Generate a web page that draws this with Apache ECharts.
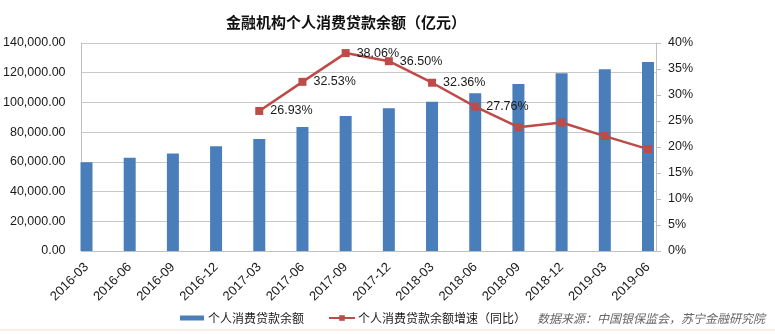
<!DOCTYPE html>
<html>
<head>
<meta charset="utf-8">
<script src="https://cdn.jsdelivr.net/npm/echarts@6/dist/echarts.min.js"></script>
<style>
  html, body { margin: 0; padding: 0; background: #fff; }
  #chart { width: 775px; height: 334px; }
</style>
</head>
<body>
<div id="chart"></div>
<script>
// Quarter-end dates
const categories = ['2016-03', '2016-06', '2016-09', '2016-12', '2017-03', '2017-06', '2017-09',
  '2017-12', '2018-03', '2018-06', '2018-09', '2018-12', '2019-03', '2019-06'];

// Outstanding personal consumer loans (100 million yuan)
const loanBalance = [59700, 62800, 65700, 70450, 75400, 83500, 90900,
  96000, 100500, 106100, 112400, 119600, 122300, 127200];

// Year-on-year growth (%), no figure before 2017-03
const loanGrowth = [null, null, null, null, 26.93, 32.53, 38.06,
  36.50, 32.36, 27.76, 23.8, 24.7, 22.1, 19.6];

// Growth points that carry a value label
const labelledGrowth = ['2017-03', '2017-06', '2017-09', '2017-12', '2018-03', '2018-06'];

// Axis ticks
const leftTicks = { min: 0, max: 140000, interval: 20000 };
const rightTicks = { min: 0, max: 40, interval: 5 };

const barName = '个人消费贷款余额';
const lineName = '个人消费贷款余额增速（同比）';

const axisGray = '#bfbfbf';
const textColor = '#1a1a1a';
const baseFont = 'Liberation Sans, Arial, sans-serif';

const chart = echarts.init(document.getElementById('chart'), null, { renderer: 'canvas' });

chart.setOption({
  backgroundColor: '#ffffff',
  animation: false,
  title: {
    text: '金融机构个人消费贷款余额（亿元）',
    left: 221,
    top: 10,
    textStyle: { fontSize: 15, fontWeight: 'bold', color: '#111', fontFamily: 'Noto Sans CJK SC' }
  },
  legend: [
    {
      data: [{ name: barName, icon: 'rect' }],
      left: 175, top: 307,
      itemWidth: 24, itemHeight: 5, itemGap: 4,
      textStyle: { fontSize: 12, color: textColor, fontFamily: 'Noto Sans CJK SC', padding: [0, 0, 0, -1] }
    },
    {
      data: [{ name: lineName }],
      left: 323, top: 307,
      itemWidth: 26, itemHeight: 7, itemGap: 4,
      textStyle: { fontSize: 12, color: textColor, fontFamily: 'Noto Sans CJK SC', padding: [0, 0, 0, -2] }
    }
  ],
  grid: [
    // frame with gridlines and both value axes
    { left: 79, right: 119, top: 43, bottom: 83, containLabel: false },
    // category positions for the marks
    { left: 86.5, right: 127, top: 43, bottom: 83, containLabel: false }
  ],
  xAxis: [
    {
      gridIndex: 0, type: 'category', data: categories,
      axisLine: { show: true, lineStyle: { color: axisGray, width: 1 } },
      axisTick: { show: false }, axisLabel: { show: false }, splitLine: { show: false }
    },
    {
      gridIndex: 1, type: 'category', data: categories, boundaryGap: false,
      axisLine: { show: false }, axisTick: { show: false },
      axisLabel: {
        rotate: 45, margin: 14, fontSize: 13, color: textColor, fontFamily: baseFont,
        interval: 0
      }
    }
  ],
  yAxis: [
    {
      gridIndex: 0, type: 'value', position: 'left',
      min: leftTicks.min, max: leftTicks.max, interval: leftTicks.interval,
      axisLine: { show: true, lineStyle: { color: axisGray } },
      axisTick: { show: false },
      splitLine: { show: true, lineStyle: { color: '#c8c8c8', width: 1 } },
      axisLabel: {
        margin: 16, fontSize: 12.5, color: textColor, fontFamily: baseFont,
        formatter: v => v.toLocaleString('en-US', { minimumFractionDigits: 2, maximumFractionDigits: 2 })
      }
    },
    {
      gridIndex: 0, type: 'value', position: 'right',
      min: rightTicks.min, max: rightTicks.max, interval: rightTicks.interval,
      axisLine: { show: true, lineStyle: { color: axisGray } },
      axisTick: { show: true, inside: false, length: 5, lineStyle: { color: axisGray } },
      splitLine: { show: false },
      axisLabel: { margin: 12, fontSize: 12.5, color: textColor, fontFamily: baseFont, formatter: '{value}%' }
    },
    {
      gridIndex: 1, type: 'value', show: false,
      min: leftTicks.min, max: leftTicks.max, splitLine: { show: false }
    },
    {
      gridIndex: 1, type: 'value', show: false,
      min: rightTicks.min, max: rightTicks.max, splitLine: { show: false }
    }
  ],
  series: [
    {
      name: barName, type: 'bar', xAxisIndex: 1, yAxisIndex: 2,
      data: loanBalance, barWidth: 12,
      itemStyle: { color: '#4a7ebb' }
    },
    {
      name: lineName, type: 'line', xAxisIndex: 1, yAxisIndex: 3,
      data: loanGrowth.map((v, i) => ({
        value: v,
        label: { show: labelledGrowth.includes(categories[i]) }
      })),
      symbol: 'rect', symbolSize: 8,
      lineStyle: { color: '#be4b48', width: 2.5 },
      itemStyle: { color: '#be4b48' },
      label: {
        position: 'right', distance: 7, fontSize: 12.5, color: textColor, fontFamily: baseFont,
        formatter: p => p.value.toFixed(2) + '%'
      },
      z: 5
    }
  ],
  graphic: [
    {
      type: 'text', left: 537, top: 312,
      style: {
        text: '数据来源：中国银保监会，苏宁金融研究院',
        fontSize: 12, fontStyle: 'italic', fill: '#666', fontFamily: 'Noto Sans CJK SC'
      }
    },
    {
      type: 'line', shape: { x1: 0, y1: 330, x2: 775, y2: 330 },
      style: { stroke: '#f6dccf', lineWidth: 1 }
    }
  ]
});
</script>
</body>
</html>
